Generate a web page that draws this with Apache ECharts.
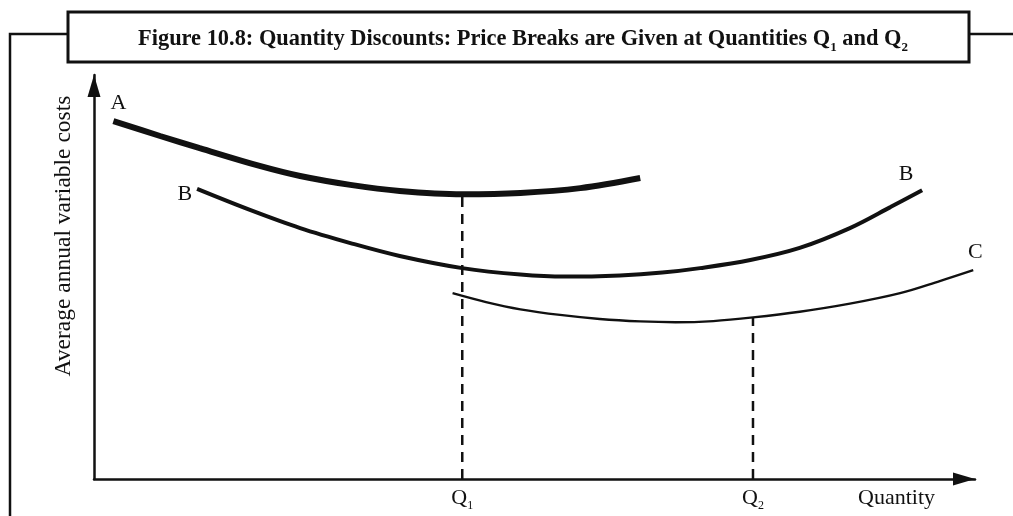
<!DOCTYPE html>
<html>
<head>
<meta charset="utf-8">
<script src="https://cdn.jsdelivr.net/npm/echarts@6/dist/echarts.min.js"></script>
<style>
  html, body { margin: 0; padding: 0; background: #fff; }
  #chart { width: 1013px; height: 516px; }
</style>
</head>
<body>
<div id="chart"></div>
<script>
// Average annual variable cost curves (x = quantity, y = cost, both in chart units 0-100)
const curveA = [[2.2, 88.6], [7.5, 84.9], [12.0, 81.9], [18.8, 77.5], [23.4, 75.0], [29.1, 72.8], [34.7, 71.3], [41.8, 70.5], [48.4, 70.8], [55.2, 72.0], [62.0, 74.5]];
const curveB = [[11.7, 71.8], [17.7, 66.6], [23.4, 62.1], [29.1, 58.4], [34.7, 55.2], [41.8, 52.2], [48.4, 50.6], [53.5, 50.1], [59.7, 50.4], [64.5, 51.1], [68.8, 52.2], [74.5, 54.2], [80.1, 57.2], [85.8, 62.1], [90.4, 67.3], [94.0, 71.5]];
const curveC = [[40.7, 46.0], [44.5, 43.8], [48.4, 42.0], [52.9, 40.6], [57.4, 39.6], [62.0, 39.0], [66.0, 38.8], [70.3, 39.1], [74.8, 40.0], [80.1, 41.4], [85.8, 43.4], [91.5, 46.0], [96.0, 49.0], [99.8, 51.7]];

// Price-break quantities and the cost level each dashed guide reaches
const breakQuantities = [41.8, 74.8];
const breakLevels = [70.5, 40.0];
const breakNames = ['1', '2'];

const titleParts = ['Figure 10.8: Quantity Discounts: Price Breaks are Given at Quantities Q', '1', ' and Q', '2'];
const yAxisName = 'Average annual variable costs';
const xAxisName = 'Quantity';

const serif = '"Liberation Serif", "DejaVu Serif", serif';
const labelFont = { fontFamily: serif, fontSize: 22, color: '#111' };

function withLabels(points, labels) {
  return points.map((p, i) => {
    const lab = labels[i];
    if (!lab) return { value: p };
    return { value: p, label: Object.assign({ show: true }, labelFont, lab) };
  });
}

const chart = echarts.init(document.getElementById('chart'), null, { renderer: 'canvas' });

const axisLineStyle = {
  show: true,
  symbol: ['none', 'triangle'],
  symbolSize: [13, 22],
  symbolOffset: [0, -11],
  lineStyle: { color: '#111', width: 2.5 }
};

const option = {
  backgroundColor: '#ffffff',
  animation: false,
  title: {
    text: '{t|' + titleParts[0] + '}{s|' + titleParts[1] + '}{t|' + titleParts[2] + '}{s|' + titleParts[3] + '}',
    left: 518,
    top: 23,
    textAlign: 'center',
    textStyle: {
      rich: {
        t: { fontFamily: serif, fontWeight: 'bold', fontSize: 22.4, color: '#111' },
        s: { fontFamily: serif, fontWeight: 'bold', fontSize: 13, color: '#111', verticalAlign: 'bottom', padding: [0, 0, -4, 0] }
      }
    }
  },
  graphic: [
    { type: 'rect', shape: { x: 68, y: 12, width: 901, height: 50 }, style: { fill: 'none', stroke: '#111', lineWidth: 3 }, z: 1 },
    { type: 'polyline', shape: { points: [[10, 520], [10, 34], [68, 34]] }, style: { fill: 'none', stroke: '#111', lineWidth: 2.5 } },
    { type: 'line', shape: { x1: 969, y1: 34, x2: 1015, y2: 34 }, style: { stroke: '#111', lineWidth: 2.5 } }
  ],
  grid: { left: 94, right: 38, top: 75, bottom: 37, containLabel: false },
  xAxis: {
    type: 'value',
    min: 0,
    max: 100,
    name: xAxisName,
    nameLocation: 'end',
    nameGap: -40,
    nameTextStyle: Object.assign({}, labelFont, { align: 'right', verticalAlign: 'top', padding: [8, 0, 0, 0] }),
    axisLine: axisLineStyle,
    axisTick: { show: false },
    splitLine: { show: false },
    axisLabel: {
      show: true,
      customValues: breakQuantities,
      margin: 8,
      formatter: v => '{q|Q}{s|' + breakNames[breakQuantities.indexOf(v)] + '}',
      rich: {
        q: { fontFamily: serif, fontSize: 22, color: '#111' },
        s: { fontFamily: serif, fontSize: 12, color: '#111', verticalAlign: 'bottom', padding: [0, 0, -3, 0] }
      }
    }
  },
  yAxis: {
    type: 'value',
    min: 0,
    max: 100,
    name: yAxisName,
    nameLocation: 'middle',
    nameGap: 18,
    nameRotate: 90,
    nameTextStyle: Object.assign({}, labelFont, { fontSize: 23.5, padding: [0, 0, 0, 82] }),
    axisLine: axisLineStyle,
    axisTick: { show: false },
    splitLine: { show: false },
    axisLabel: { show: false }
  },
  series: [
    {
      name: 'A', type: 'line', smooth: 0.35, symbol: 'circle', symbolSize: 0,
      lineStyle: { color: '#111', width: 6, cap: 'butt' },
      data: withLabels(curveA, { 0: { formatter: 'A', position: 'top', offset: [5, -2] } })
    },
    {
      name: 'B', type: 'line', smooth: 0.35, symbol: 'circle', symbolSize: 0,
      lineStyle: { color: '#111', width: 4, cap: 'butt' },
      data: withLabels(curveB, {
        0: { formatter: 'B', position: 'left', offset: [0, 5] },
        15: { formatter: 'B', position: 'top', offset: [-16, 0] }
      })
    },
    {
      name: 'C', type: 'line', smooth: 0.35, symbol: 'circle', symbolSize: 0,
      lineStyle: { color: '#111', width: 2.3, cap: 'butt' },
      data: withLabels(curveC, { 13: { formatter: 'C', position: 'top', offset: [2, -2] } })
    },
    {
      name: 'Q1 break', type: 'line', symbol: 'none', silent: true,
      lineStyle: { color: '#111', width: 2.5, type: [10, 7] },
      data: [[breakQuantities[0], 0], [breakQuantities[0], breakLevels[0]]]
    },
    {
      name: 'Q2 break', type: 'line', symbol: 'none', silent: true,
      lineStyle: { color: '#111', width: 2.5, type: [10, 7] },
      data: [[breakQuantities[1], 0], [breakQuantities[1], breakLevels[1]]]
    }
  ]
};

chart.setOption(option);
</script>
</body>
</html>
